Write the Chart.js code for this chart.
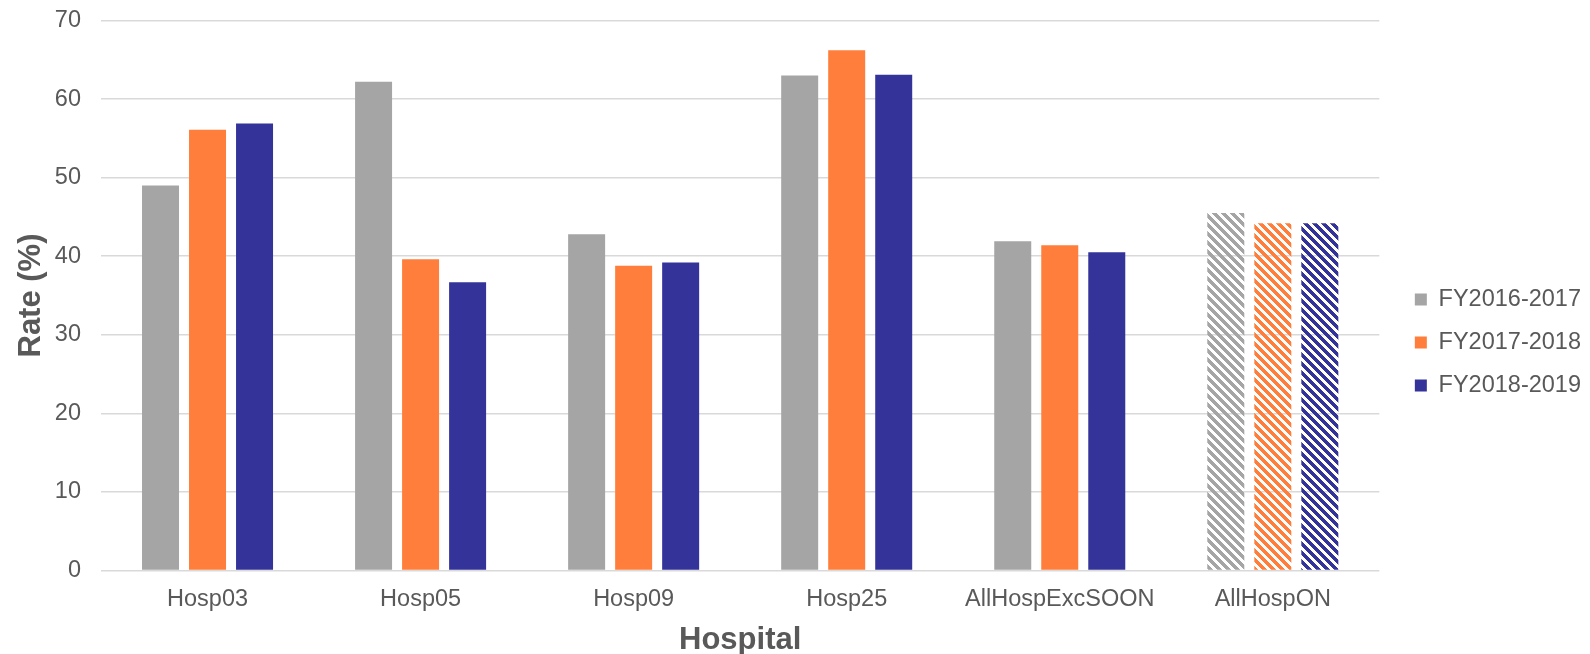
<!DOCTYPE html>
<html>
<head>
<meta charset="utf-8">
<script src="https://cdn.jsdelivr.net/npm/chart.js@4.4.1/dist/chart.umd.min.js"></script>
<style>
  body { margin: 0; background: #fff; }
  #chart { display: block; }
</style>
</head>
<body>
<canvas id="chart" width="1590" height="654"></canvas>
<script>
const hospitals = ["Hosp03", "Hosp05", "Hosp09", "Hosp25", "AllHospExcSOON", "AllHospON"];
const fy2016 = [49.0, 62.2, 42.8, 63.0, 41.9, 45.5];
const fy2017 = [56.1, 39.6, 38.8, 66.2, 41.4, 44.2];
const fy2018 = [56.9, 36.7, 39.2, 63.1, 40.5, 44.2];
const seriesNames = ["FY2016-2017", "FY2017-2018", "FY2018-2019"];
const yTicks = [0, 10, 20, 30, 40, 50, 60, 70];

const FONT = "'Liberation Sans', Arial, sans-serif";
const TEXT = "#595959";

// diagonal hatch used for the last category (all hospitals)
function hatch(color) {
  const n = 9;
  const c = document.createElement("canvas");
  c.width = n; c.height = n;
  const g = c.getContext("2d");
  g.fillStyle = color;
  for (let y = 0; y < n; y++) {
    for (let x = 0; x < n; x++) {
      if (((x - y) % n + n) % n < 5) g.fillRect(x, y, 1, 1);
    }
  }
  return g.createPattern(c, "repeat");
}

function series(label, data, color) {
  const pat = hatch(color);
  return {
    label: label,
    data: data,
    backgroundColor: ctx => ctx.dataIndex === hospitals.length - 1 ? pat : color,
    borderWidth: 0,
    categoryPercentage: 0.662,
    barPercentage: 0.787
  };
}

// push the legend a bit away from the plot, like the original
const shiftLegend = {
  id: 'shiftLegend',
  afterLayout(chart) {
    chart.legend.left += 16;
    chart.legend.right += 16;
  }
};

const CHART = document.getElementById("chart");
let barChart = new Chart(CHART, {
  type: 'bar',
  data: {
    labels: hospitals,
    datasets: [
      series(seriesNames[0], fy2016, "#A5A5A5"),
      series(seriesNames[1], fy2017, "#FF7E3B"),
      series(seriesNames[2], fy2018, "#333399")
    ]
  },
  plugins: [shiftLegend],
  options: {
    responsive: false,
    animation: false,
    layout: { padding: { left: 0, right: 15, top: 0, bottom: 0 } },
    plugins: {
      tooltip: { enabled: false },
      legend: {
        position: 'right',
        title: { display: true, text: '', font: { size: 10 }, padding: 9.5 },
        labels: {
          boxWidth: 12,
          boxHeight: 12,
          padding: 19.5,
          color: TEXT,
          font: { family: FONT, size: 23.5 }
        }
      }
    },
    scales: {
      x: {
        grid: { display: false },
        border: { display: false },
        ticks: { color: TEXT, padding: 7, maxRotation: 0, font: { family: FONT, size: 23.5 } },
        title: {
          display: true,
          text: 'Hospital',
          color: TEXT,
          padding: { top: 0, bottom: -5 },
          font: { family: FONT, size: 31, weight: 'bold' }
        },
        afterFit: axis => { axis.height = 83.5; axis.paddingLeft = 0; axis.paddingRight = 0; }
      },
      y: {
        min: 0,
        max: 70,
        afterBuildTicks: axis => { axis.ticks = yTicks.map(v => ({ value: v })); },
        grid: { color: '#D9D9D9', lineWidth: 1.6, drawTicks: false },
        border: { display: false },
        ticks: { color: TEXT, padding: 20, font: { family: FONT, size: 23.5 } },
        title: {
          display: true,
          text: 'Rate (%)',
          color: TEXT,
          padding: { top: 13, bottom: 0 },
          font: { family: FONT, size: 31, weight: 'bold' }
        },
        afterFit: axis => { axis.width = 101; axis.paddingTop = 20.5; axis.paddingBottom = 0; }
      }
    }
  }
});
</script>
</body>
</html>
